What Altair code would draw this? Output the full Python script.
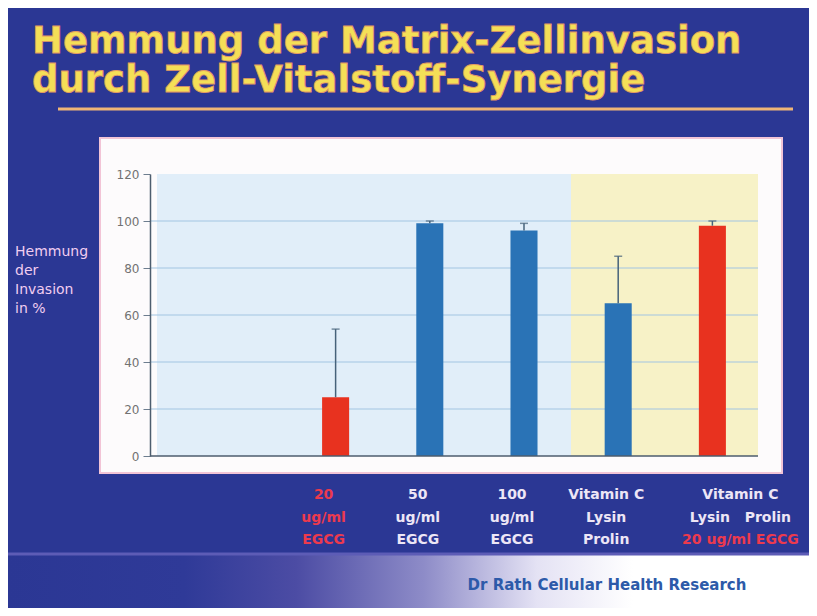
import altair as alt
import pandas as pd

# ---------------- data ----------------
kategorien = [
    "20 ug/ml EGCG",
    "50 ug/ml EGCG",
    "100 ug/ml EGCG",
    "Vitamin C, Lysin, Prolin",
    "Vitamin C, Lysin, Prolin, 20 ug/ml EGCG",
]
hemmung = [25, 99, 96, 65, 98]          # Hemmung der Invasion in %
fehler_oben = [54, 100, 99, 85, 100]    # upper end of error bar
label_zeilen = [
    ["20", "ug/ml", "EGCG"],
    ["50", "ug/ml", "EGCG"],
    ["100", "ug/ml", "EGCG"],
    ["Vitamin C", "Lysin", "Prolin"],
    ["Vitamin C", "Lysin\u00a0\u00a0\u00a0Prolin", "20 ug/ml EGCG"],
]
y_ticks = [0, 20, 40, 60, 80, 100, 120]
titel = ["Hemmung der Matrix-Zellinvasion", "durch Zell-Vitalstoff-Synergie"]
y_titel = ["Hemmung", "der", "Invasion", "in %"]
fusszeile = "Dr Rath Cellular Health Research"

# ---------------- tables ----------------
df = pd.DataFrame({
    "kategorie": kategorien,
    "hemmung": hemmung,
    "fehler": fehler_oben,
})
df["rot"] = df["kategorie"].str.contains("20 ug/ml EGCG")

rows = []
for k, zeilen in zip(kategorien, label_zeilen):
    for i, t in enumerate(zeilen):
        rot = (k == "20 ug/ml EGCG") or (t == "20 ug/ml EGCG")
        rows.append({"kategorie": k, "zeile": i, "text": t, "rot": rot})
labels_df = pd.DataFrame(rows)
grid_df = pd.DataFrame({"wert": [v for v in y_ticks if 0 < v < 120]})
one = alt.Data(values=[{"a": 1}])

BG = "#2b3794"
BLUE = "#2a73b6"
RED = "#e8321f"
ERR = "#46627a"
AXIS = "#4d5d6e"
LABEL_WHITE = "#ede6f6"
LABEL_RED = "#ec3a4e"

xscale = alt.Scale(domain=kategorien, range=[125, 623], paddingInner=0.713, paddingOuter=0.5)
yscale = alt.Scale(domain=[0, 120], nice=False)

# white panel behind the plot
panel = alt.Chart(one).mark_rect(color="#fdfbfc", stroke="#f2c4d6", strokeWidth=2).encode(
    x=alt.value(-50), x2=alt.value(632), y=alt.value(-36), y2=alt.value(299)
)

# shaded background regions (boundary half-way between 3rd and 4th bar)
bg_blue = alt.Chart(one).mark_rect(color="#e1eef9", xOffset=33.5).encode(
    x=alt.X(datum=kategorien[2], type="nominal", bandPosition=1),
    x2=alt.value(7),
    y=alt.Y(datum=120, type="quantitative"),
    y2=alt.Y2(datum=0),
)
bg_yellow = alt.Chart(one).mark_rect(color="#f7f2c7", xOffset=33.5).encode(
    x=alt.X(datum=kategorien[2], type="nominal", bandPosition=1),
    x2=alt.value("width"),
    y=alt.Y(datum=120, type="quantitative"),
    y2=alt.Y2(datum=0),
)

grid = alt.Chart(grid_df).mark_rule(color="#a2c5e2", strokeWidth=1).encode(
    y=alt.Y("wert:Q"), x=alt.value(0), x2=alt.value("width")
)

bars = alt.Chart(df).mark_bar().encode(
    x=alt.X(
        "kategorie:N", scale=xscale, sort=kategorien,
        axis=alt.Axis(labels=False, ticks=False, title=None, grid=False, domain=False),
    ),
    y=alt.Y(
        "hemmung:Q", scale=yscale,
        axis=alt.Axis(values=y_ticks, title=None, grid=False, zindex=1,
                      domainColor=AXIS, domainWidth=1.5,
                      tickColor="#6d7d8e", tickSize=7, labelPadding=4,
                      labelColor="#727272", labelFontSize=12,
                      labelFont="DejaVu Sans"),
    ),
    color=alt.condition("datum.rot", alt.value(RED), alt.value(BLUE)),
)

# baseline (x axis line) across the full plot width
baseline = alt.Chart(one).mark_rule(color=AXIS, strokeWidth=1.5).encode(
    y=alt.Y(datum=0, type="quantitative"), x=alt.value(0), x2=alt.value("width")
)

err = alt.Chart(df).mark_rule(color=ERR, strokeWidth=1.5).encode(
    x="kategorie:N", y="hemmung:Q", y2="fehler:Q"
)
caps = alt.Chart(df).mark_tick(color=ERR, thickness=1.5, size=8).encode(
    x="kategorie:N", y="fehler:Q"
)

# category labels below the panel
label_layers = []
zeilen_y = [321, 344, 366]
for i, yy in enumerate(zeilen_y):
    for sel, dx in [("datum.kategorie != '%s'" % kategorien[4], -12),
                    ("datum.kategorie == '%s'" % kategorien[4], 28)]:
        label_layers.append(
            alt.Chart(labels_df).transform_filter(f"datum.zeile == {i}")
            .transform_filter(sel)
            .mark_text(font="DejaVu Sans", fontWeight="bold", fontSize=14,
                       baseline="middle", align="center", dx=dx)
            .encode(
                x="kategorie:N",
                y=alt.value(yy),
                text="text:N",
                color=alt.condition("datum.rot", alt.value(LABEL_RED), alt.value(LABEL_WHITE)),
            )
        )

# y title (left side)
ytitle_layers = []
for i, t in enumerate(y_titel):
    ytitle_layers.append(
        alt.Chart(one).mark_text(text=t, font="DejaVu Sans", fontSize=14,
                                 color="#f1cdf0", align="left", baseline="middle")
        .encode(x=alt.value(-135), y=alt.value(78 + 19 * i))
    )

# main title
title_layers = []
for t, yy in zip(titel, [-121, -82]):
    title_layers.append(
        alt.Chart(one).mark_text(text=t, font="DejaVu Sans", fontWeight="bold",
                                 fontSize=37, color="#f4df57", stroke="#e39a62",
                                 strokeWidth=0.8, align="left", baseline="alphabetic")
        .encode(x=alt.value(-118), y=alt.value(yy))
    )

underline = alt.Chart(one).mark_rule(color="#efb676", strokeWidth=3).encode(
    x=alt.value(-92), x2=alt.value(643), y=alt.value(-65)
)

# footer band with gradient
footer_bg = alt.Chart(one).mark_rect(
    color=alt.Gradient(
        gradient="linear",
        stops=[
            alt.GradientStop(offset=0, color=BG),
            alt.GradientStop(offset=0.22, color="#2f3a98"),
            alt.GradientStop(offset=0.36, color="#4c4ca4"),
            alt.GradientStop(offset=0.52, color="#8e8cc8"),
            alt.GradientStop(offset=0.66, color="#e4e2f4"),
            alt.GradientStop(offset=0.78, color="#ffffff"),
            alt.GradientStop(offset=1, color="#ffffff"),
        ],
        x1=0, x2=1, y1=0, y2=0,
    )
).encode(x=alt.value(-142), x2=alt.value(659), y=alt.value(381), y2=alt.value(434))

footer_line = alt.Chart(one).mark_rule(color="#5d5cb6", strokeWidth=3).encode(
    x=alt.value(-142), x2=alt.value(659), y=alt.value(380)
)

footer_text = alt.Chart(one).mark_text(
    text=fusszeile, font="DejaVu Sans", fontWeight="bold", fontSize=15,
    color="#2d5aa9", align="center", baseline="middle"
).encode(x=alt.value(457), y=alt.value(411))

chart = alt.layer(
    panel, bg_blue, bg_yellow, grid, bars, baseline, err, caps,
    *label_layers, *ytitle_layers, *title_layers, underline,
    footer_bg, footer_line, footer_text,
).properties(
    width=608, height=282,
    autosize=alt.AutoSizeParams(type="none"),
    padding={"left": 142, "top": 166, "right": 51, "bottom": 152},
).configure(
    background=BG,
).configure_view(stroke=None)

chart.save("out.html", embed_options={"renderer": "svg", "actions": False})
